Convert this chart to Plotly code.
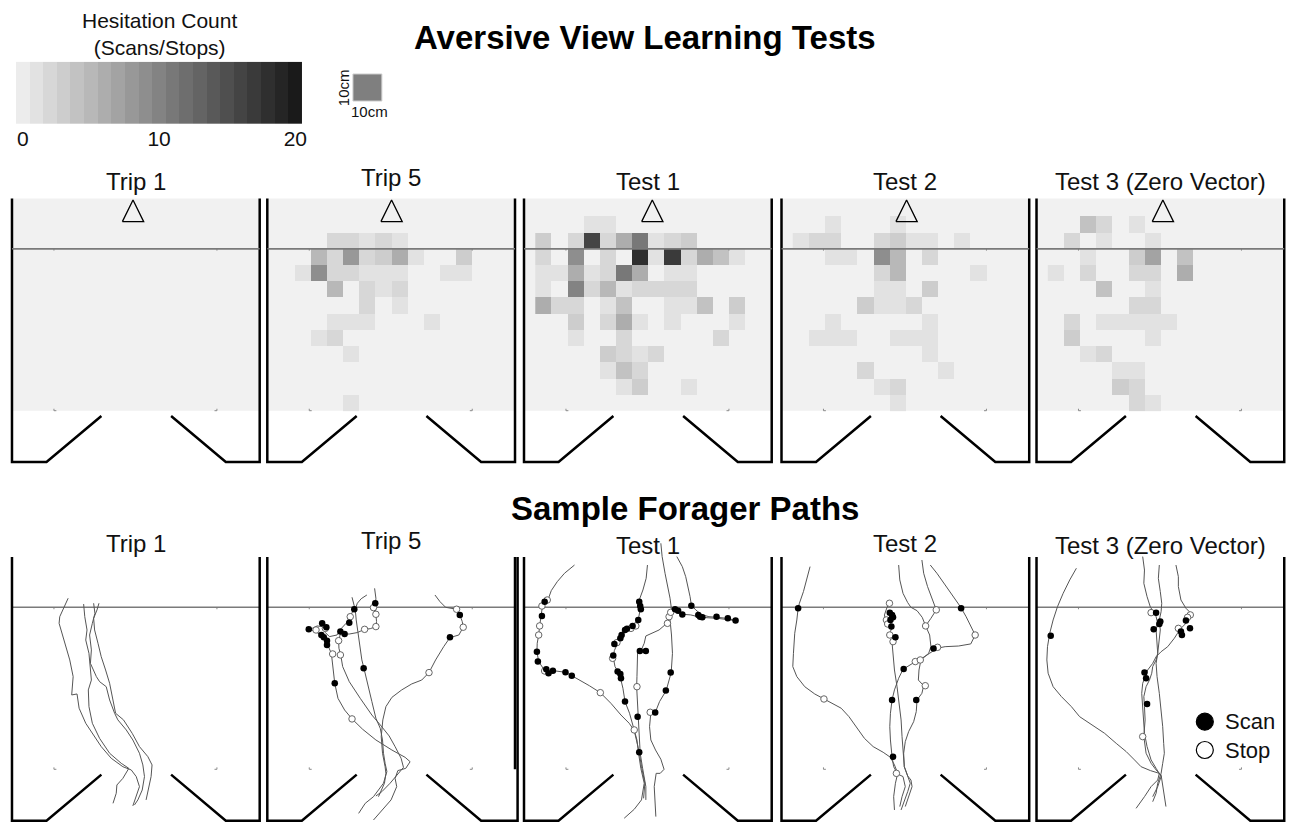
import plotly.graph_objects as go

# ======================= DATA =======================
PANEL_TITLES = ["Trip 1", "Trip 5", "Test 1", "Test 2", "Test 3 (Zero Vector)"]
MAIN_TITLES = ["Aversive View Learning Tests", "Sample Forager Paths"]
COLORBAR_TITLE = "Hesitation Count<br>(Scans/Stops)"
COLORBAR_LEVELS = list(range(21))
COLORBAR_TICKS = [0, 10, 20]
SCALE_LABEL = "10cm"
MARKER_LABELS = ["Scan", "Stop"]

# Hesitation heat-map cells: (column, row, count); 10 cm cells
HEAT_TRIP1 = []
HEAT_TRIP5 = [
    (3, 10, 2), (4, 10, 2), (5, 10, 1), (6, 10, 2), (7, 10, 1),
    (2, 9, 5), (3, 9, 2), (4, 9, 8), (5, 9, 2), (6, 9, 3), (7, 9, 6), (8, 9, 1), (11, 9, 3),
    (1, 8, 1), (2, 8, 9), (3, 8, 2), (4, 8, 2), (5, 8, 1), (6, 8, 1), (7, 8, 1), (10, 8, 1), (11, 8, 1),
    (3, 7, 5), (5, 7, 2), (6, 7, 1), (7, 7, 2),
    (5, 6, 2), (7, 6, 1),
    (3, 5, 1), (4, 5, 1), (5, 5, 1), (9, 5, 1),
    (2, 4, 1), (3, 4, 2),
    (4, 3, 1),
    (4, 0, 1),
]
HEAT_TEST1 = [
    (3, 11, 1), (4, 11, 1),
    (0, 10, 3), (2, 10, 2), (3, 10, 16), (4, 10, 2), (5, 10, 6), (6, 10, 11), (7, 10, 1), (8, 10, 2), (9, 10, 3),
    (0, 9, 2), (2, 9, 9), (4, 9, 2), (6, 9, 18), (7, 9, 1), (8, 9, 17), (9, 9, 2), (10, 9, 6), (11, 9, 4), (12, 9, 1),
    (0, 8, 1), (1, 8, 1), (2, 8, 6), (3, 8, 1), (4, 8, 2), (5, 8, 11), (6, 8, 6), (8, 8, 1), (9, 8, 1),
    (0, 7, 1), (2, 7, 10), (3, 7, 2), (4, 7, 5), (5, 7, 1), (6, 7, 2), (7, 7, 2), (8, 7, 2), (9, 7, 2),
    (0, 6, 6), (1, 6, 2), (2, 6, 2), (4, 6, 1), (5, 6, 4), (8, 6, 1), (9, 6, 1), (10, 6, 4), (12, 6, 3),
    (2, 5, 3), (4, 5, 2), (5, 5, 6), (6, 5, 1), (8, 5, 1), (12, 5, 1),
    (2, 4, 1), (5, 4, 2), (11, 4, 2),
    (4, 3, 3), (5, 3, 2), (6, 3, 1), (7, 3, 2),
    (4, 2, 1), (5, 2, 4), (6, 2, 2),
    (5, 1, 1), (6, 1, 3), (9, 1, 1),
]
HEAT_TEST2 = [
    (2, 11, 1), (6, 11, 1),
    (0, 10, 1), (1, 10, 2), (2, 10, 2), (5, 10, 2), (6, 10, 3), (7, 10, 1), (8, 10, 1), (10, 10, 1),
    (2, 9, 1), (3, 9, 1), (5, 9, 9), (6, 9, 5), (8, 9, 2),
    (5, 8, 2), (6, 8, 5), (11, 8, 1),
    (5, 7, 1), (6, 7, 1), (8, 7, 3),
    (4, 6, 3), (5, 6, 1), (6, 6, 1), (7, 6, 2),
    (2, 5, 1), (8, 5, 1),
    (1, 4, 1), (2, 4, 1), (3, 4, 1), (6, 4, 1), (7, 4, 1), (8, 4, 1),
    (8, 3, 1),
    (4, 2, 2), (9, 2, 1),
    (5, 1, 1), (6, 1, 2),
    (6, 0, 1),
]
HEAT_TEST3 = [
    (2, 11, 4), (3, 11, 2), (5, 11, 1),
    (1, 10, 2), (3, 10, 1), (6, 10, 1),
    (2, 9, 1), (5, 9, 3), (6, 9, 7), (8, 9, 4),
    (0, 8, 1), (2, 8, 2), (5, 8, 2), (6, 8, 2), (8, 8, 6),
    (3, 7, 4), (6, 7, 1),
    (5, 6, 2), (6, 6, 2),
    (1, 5, 2), (3, 5, 1), (4, 5, 1), (5, 5, 1), (6, 5, 1), (7, 5, 1),
    (1, 4, 3), (6, 4, 1),
    (2, 3, 1), (3, 3, 2),
    (4, 2, 1), (5, 2, 1),
    (4, 1, 3), (5, 1, 2),
    (5, 0, 2), (6, 0, 1),
]
HEAT_CELLS = [HEAT_TRIP1, HEAT_TRIP5, HEAT_TEST1, HEAT_TEST2, HEAT_TEST3]

# Forager paths (x, y in cm)
TRIP1_PATHS = [
    [(34.8, 105.6), (32.1, 100.0), (29.6, 94.2), (29.2, 90.1), (31.3, 82.9), (33.7, 74.7), (35.8, 67.5), (37.9, 57.2), (37.0, 45.9), (40.3, 46.5), (41.6, 37.7), (45.7, 28.4), (51.2, 20.2), (55.3, 14.0), (61.5, 6.8), (68.7, 1.6), (73.9, -0.4), (77.0, -4.5), (79.0, -10.7), (77.0, -16.9), (74.9, -22.6)],
    [(44.4, 102.0), (45.1, 94.2), (46.5, 86.0), (45.7, 79.8), (47.7, 71.6), (48.6, 63.4), (49.2, 55.1), (47.3, 49.0), (47.7, 38.7), (49.8, 28.4), (54.3, 19.1), (60.5, 9.9), (67.7, 3.7), (72.4, 0.6), (68.7, -5.6), (65.0, -9.7), (64.6, -14.8), (62.6, -21.0)],
    [(50.6, 102.5), (51.4, 96.3), (49.8, 90.1), (48.1, 82.9), (49.2, 73.7), (48.6, 65.4), (52.3, 57.2), (54.3, 54.1), (58.4, 51.0), (60.5, 42.8), (63.6, 34.6), (65.6, 30.5), (70.8, 24.3), (74.9, 18.1), (79.0, 9.9), (81.1, 2.7), (82.1, -4.5), (80.7, -12.8), (78.0, -18.9), (75.9, -22.0)],
    [(53.9, 102.5), (52.7, 98.4), (50.6, 93.2), (51.2, 86.0), (53.3, 77.8), (55.3, 69.5), (58.0, 61.3), (60.5, 53.1), (64.2, 34.6), (69.1, 30.5), (74.5, 22.2), (79.0, 14.0), (84.2, 7.8), (86.8, 2.7), (86.2, -4.5), (84.8, -10.7), (83.1, -18.9)],
]
TRIP1_SCANS = []
TRIP1_STOPS = []

TRIP5_PATHS = [
    [(52.5, 106.2), (53.9, 100.8), (52.9, 97.3), (50.8, 93.8), (48.8, 90.1), (45.9, 87.0), (43.2, 82.9), (38.5, 81.9), (36.0, 84.4), (34.0, 88.1), (30.9, 88.5), (27.8, 87.0), (25.7, 86.4), (29.4, 85.2), (33.5, 82.9), (35.6, 79.8), (37.7, 76.1), (39.7, 71.6), (40.5, 63.4), (41.8, 53.1), (43.8, 43.8), (47.9, 36.6), (52.5, 31.1), (59.1, 24.7), (67.3, 18.1), (77.2, 11.9), (85.4, 7.4), (88.5, 4.7), (85.8, 0.6), (80.9, -0.8), (79.2, -5.6), (80.2, -10.7), (76.7, -18.9), (71.4, -25.1), (65.8, -31.3)],
    [(66.5, 111.7), (67.3, 105.6), (67.1, 102.1), (66.9, 98.8), (67.3, 95.3), (67.7, 91.2), (67.3, 88.1), (63.8, 86.8), (60.3, 86.4), (55.8, 84.4), (50.8, 83.5), (47.9, 83.5), (45.5, 84.4), (44.2, 79.4), (44.4, 74.7), (45.5, 70.6), (46.7, 63.4), (50.8, 54.1), (57.6, 43.8), (64.8, 33.5), (70.6, 26.7), (75.5, 20.6), (79.2, 14.0), (82.9, 6.8), (84.4, 1.2), (81.3, -2.5), (76.1, -8.6), (71.0, -13.8), (67.3, -16.5)],
    [(61.7, 107.6), (58.2, 105.3), (55.8, 102.5), (54.5, 98.8), (55.1, 92.2), (56.2, 85.0), (57.2, 76.7), (58.6, 67.5), (59.9, 62.3), (62.3, 53.1), (64.8, 41.8), (67.3, 31.5), (70.0, 25.3), (71.4, 18.1), (72.0, 9.9), (73.0, 3.7), (74.1, -1.4), (72.0, -8.6), (65.8, -16.9), (60.7, -21.0), (56.6, -27.2)],
    [(103.9, 107.6), (107.0, 103.5), (110.5, 100.0), (117.3, 98.8), (119.3, 95.3), (120.8, 91.2), (121.4, 87.7), (118.7, 82.9), (113.2, 81.3), (109.3, 75.7), (104.3, 67.5), (100.2, 59.7), (95.7, 55.1), (89.5, 52.7), (83.3, 49.0), (77.2, 44.4), (73.5, 38.7), (71.6, 30.5), (70.6, 20.2), (71.4, 9.9), (73.0, 1.6), (73.5, -2.5), (72.6, -8.6), (68.9, -16.9)],
]
TRIP5_SCANS = [(53.9, 98.8), (66.9, 102.5), (50.8, 90.5), (45.3, 85.0), (47.9, 83.5), (25.7, 86.4), (34.0, 90.1), (36.6, 87.7), (33.5, 82.9), (35.0, 81.5), (37.0, 79.4), (37.0, 76.7), (59.7, 62.3), (41.8, 53.1), (119.3, 95.3), (113.2, 81.5)]
TRIP5_STOPS = [(65.8, 99.8), (67.3, 95.7), (67.3, 88.1), (60.3, 86.4), (51.4, 94.2), (30.2, 86.0), (36.0, 87.0), (44.2, 79.4), (40.5, 71.2), (45.3, 70.6), (52.5, 31.1), (100.2, 59.7), (117.3, 98.8), (121.4, 87.7)]

TEST1_PATHS = [
    [(31.3, 126.1), (25.1, 121.0), (20.6, 115.8), (16.9, 110.3), (14.8, 104.5), (12.3, 101.4), (11.1, 98.4), (10.7, 94.2), (9.7, 88.5), (9.1, 82.9), (8.2, 77.8), (8.0, 72.6), (9.1, 66.5), (12.3, 61.7), (14.8, 59.3), (17.9, 60.9), (21.4, 60.3), (25.7, 59.9), (29.6, 57.8), (34.4, 55.1), (40.5, 51.6), (47.3, 47.3), (53.9, 40.7), (60.1, 33.5), (65.2, 28.4), (68.3, 23.9), (69.8, 17.7), (71.4, 10.5), (72.8, 1.6), (74.9, -8.6), (74.1, -17.9)],
    [(76.5, 126.1), (75.7, 117.9), (73.7, 110.7), (71.4, 104.5), (72.0, 98.8), (70.8, 92.2), (67.5, 88.5), (63.8, 86.8), (61.1, 82.9), (58.0, 77.8), (56.0, 73.3), (55.3, 69.1), (56.4, 63.4), (59.1, 58.8), (60.1, 55.1), (61.3, 50.0), (62.6, 41.8), (65.4, 34.6), (67.7, 26.3), (70.0, 18.1), (71.0, 9.9), (72.4, 0.6), (74.5, -8.6), (72.8, -18.9), (68.3, -24.7), (62.1, -30.2)],
    [(84.8, 139.5), (85.6, 131.3), (87.4, 121.0), (89.3, 112.8), (90.5, 105.6), (91.4, 98.8), (90.5, 92.2), (91.4, 82.9), (92.0, 71.6), (91.2, 59.7), (88.1, 48.6), (84.0, 41.8), (81.3, 35.0), (78.6, 35.0), (77.8, 26.3), (78.6, 18.1), (81.5, 11.9), (84.8, 6.2), (86.8, 0.0), (84.4, -2.5), (81.9, -2.5), (80.7, -10.7), (81.1, -21.0), (81.7, -29.2)],
    [(94.7, 131.3), (98.1, 125.1), (100.2, 118.9), (101.6, 112.8), (102.9, 106.6), (103.7, 101.4), (106.4, 98.4), (109.9, 95.5), (114.6, 94.2), (119.8, 93.8), (125.9, 93.2), (131.1, 91.8), (125.9, 92.6), (119.8, 93.2), (109.5, 93.8), (103.3, 95.3), (98.1, 95.7), (94.0, 98.4), (90.5, 94.2), (88.5, 90.1), (83.7, 86.0), (78.6, 84.0), (75.5, 82.3), (74.5, 77.8), (72.4, 73.0), (70.4, 72.6), (70.0, 65.4), (70.0, 57.2), (69.8, 51.0), (70.4, 38.7), (70.8, 32.5), (71.4, 22.2), (72.0, 9.9), (73.5, 0.6), (75.5, -10.7), (75.5, -18.9)],
]
TEST1_SCANS = [(12.8, 103.5), (11.1, 94.7), (8.0, 72.6), (8.6, 66.5), (13.8, 61.7), (15.2, 59.3), (17.9, 60.9), (25.7, 59.9), (29.6, 57.8), (71.4, 103.5), (72.0, 100.8), (72.4, 98.8), (70.8, 92.2), (67.3, 88.5), (63.8, 86.8), (62.6, 86.0), (60.5, 82.9), (59.7, 80.9), (56.0, 77.4), (55.3, 70.2), (58.0, 60.3), (59.7, 58.8), (60.1, 56.2), (62.6, 41.8), (70.4, 32.5), (71.4, 10.5), (93.6, 98.8), (95.5, 97.9), (98.1, 95.5), (103.7, 101.0), (108.0, 95.3), (109.1, 94.2), (110.5, 93.8), (119.3, 94.2), (126.3, 93.2), (131.1, 91.8), (71.8, 73.0), (75.5, 73.0), (90.9, 59.7), (87.9, 48.6), (81.3, 35.0)]
TEST1_STOPS = [(11.1, 100.8), (14.4, 104.5), (9.7, 88.5), (9.1, 82.9), (12.8, 60.7), (47.3, 47.3), (68.3, 24.3), (57.6, 78.2), (54.9, 68.5), (69.3, 88.5), (66.3, 87.0), (70.0, 51.0), (78.2, 35.2), (89.9, 94.2), (88.9, 90.1), (90.9, 96.9)]

TEST2_PATHS = [
    [(17.7, 125.1), (15.6, 116.9), (13.6, 109.7), (11.1, 102.5), (10.3, 99.4), (9.5, 92.2), (8.2, 84.0), (7.4, 71.6), (7.0, 63.4), (9.5, 57.2), (14.4, 51.0), (20.6, 46.5), (26.3, 43.4), (32.1, 40.7), (37.0, 37.7), (41.8, 32.5), (46.5, 25.9), (51.4, 19.1), (56.8, 14.0), (63.0, 10.5), (67.5, 7.4), (70.0, 2.7), (72.0, -2.5), (70.6, -8.6), (69.5, -16.9), (70.0, -25.1)],
    [(87.0, 129.2), (88.1, 121.0), (90.5, 112.8), (93.4, 104.5), (95.9, 98.4), (92.6, 93.2), (89.3, 88.5), (91.8, 82.9), (92.6, 75.7), (91.2, 71.6), (86.4, 67.5), (85.2, 61.3), (84.8, 55.1), (88.1, 51.6), (87.0, 46.9), (84.0, 42.8), (83.5, 35.6), (81.9, 29.4), (78.8, 23.3), (76.7, 17.1), (75.7, 9.9), (76.1, 1.6), (78.2, -4.5), (79.8, -8.6), (78.2, -13.8), (75.7, -20.0), (74.1, -25.1)],
    [(72.6, 126.1), (73.3, 116.9), (75.3, 108.6), (78.2, 102.9), (80.2, 100.0), (84.0, 97.9), (87.2, 93.8), (89.3, 88.5)],
    [(92.2, 126.1), (96.3, 121.0), (101.4, 113.8), (106.6, 106.6), (111.1, 100.0), (114.4, 94.2), (117.9, 87.0), (120.0, 82.9), (117.3, 77.4), (109.7, 76.1), (101.4, 75.7), (96.3, 74.7), (91.8, 71.6), (87.0, 68.5), (81.9, 65.8), (77.4, 63.0), (75.3, 61.7), (72.6, 56.2), (70.0, 49.0), (68.5, 42.8), (67.5, 34.6), (67.1, 26.3), (67.5, 18.1), (68.5, 7.8), (69.5, 1.6), (72.0, -2.9), (75.3, -4.5), (76.7, -10.7), (74.7, -16.9), (73.3, -23.0)],
    [(67.1, 102.9), (65.4, 100.0), (63.8, 95.3), (64.4, 92.2), (66.7, 89.7), (68.5, 87.7), (67.5, 85.0), (68.5, 82.3), (69.5, 80.9), (68.5, 78.2), (69.1, 71.6), (70.0, 61.3), (71.6, 51.0), (72.8, 40.7), (74.1, 30.5), (74.7, 20.2), (75.3, 9.9), (76.1, 1.6), (78.2, -4.1), (80.2, -6.6), (80.9, -10.7), (78.8, -16.9), (76.7, -23.0)],
]
TEST2_SCANS = [(10.3, 99.4), (111.3, 99.4), (67.1, 96.7), (68.5, 95.3), (69.1, 93.8), (67.5, 92.2), (68.1, 88.1), (70.6, 81.5), (94.2, 74.5), (75.7, 61.9), (68.5, 42.8), (83.5, 42.8), (69.1, 7.8)]
TEST2_STOPS = [(66.9, 102.5), (95.9, 98.4), (65.0, 92.2), (65.8, 89.7), (89.3, 88.5), (120.0, 82.9), (67.1, 82.9), (69.1, 78.8), (96.7, 75.3), (82.9, 66.5), (86.0, 67.5), (89.1, 51.6), (26.3, 43.4), (71.2, -2.5)]

TEST3_PATHS = [
    [(24.7, 124.1), (20.6, 116.9), (16.5, 108.6), (13.0, 100.4), (10.3, 92.2), (8.2, 84.0), (6.8, 75.7), (6.4, 67.5), (7.2, 59.3), (10.3, 51.0), (15.4, 44.9), (21.6, 38.7), (26.7, 32.5), (34.0, 27.4), (42.2, 22.2), (49.4, 16.0), (55.6, 10.9), (60.7, 5.8), (64.8, 1.6), (70.6, -0.8), (76.1, -2.5), (75.1, -6.6), (71.0, -10.7), (66.9, -16.9), (61.7, -24.1)],
    [(65.8, 131.3), (66.9, 123.0), (66.5, 114.8), (68.5, 106.6), (70.6, 100.0), (73.0, 96.7), (74.1, 94.2), (75.1, 90.1), (74.1, 86.0), (74.7, 79.8), (75.1, 71.6), (74.1, 67.5), (72.0, 63.4), (71.4, 59.3), (70.0, 55.1), (67.9, 51.0), (66.5, 44.9), (66.9, 38.7), (67.3, 30.5), (66.5, 20.2), (67.9, 9.9), (71.0, 3.7), (74.1, -0.4), (77.2, -3.5), (78.2, -10.7), (79.2, -16.9), (80.2, -23.0)],
    [(76.1, 126.1), (75.5, 117.9), (76.7, 109.7), (77.6, 102.5), (77.2, 97.3), (76.1, 92.2), (76.7, 86.0), (76.1, 79.8), (75.1, 71.6), (74.1, 65.4), (74.7, 57.2), (76.1, 46.9), (77.2, 36.6), (78.2, 26.3), (78.8, 16.0), (79.2, 9.9), (78.2, 3.7), (77.2, -2.5), (75.1, -8.6), (74.1, -14.8), (72.0, -20.0)],
    [(86.4, 126.1), (87.9, 118.9), (87.9, 112.8), (89.5, 104.5), (92.6, 99.4), (94.7, 97.3), (95.3, 94.2), (93.6, 91.2), (91.6, 89.1), (89.5, 87.0), (87.4, 84.0), (85.4, 80.9), (81.3, 75.7), (77.2, 72.6), (74.1, 69.5), (72.0, 65.4), (68.9, 61.3), (67.3, 57.2), (65.8, 53.1), (65.2, 46.9), (65.8, 38.7), (66.5, 30.5), (66.9, 22.2), (68.5, 14.0), (71.0, 5.8), (74.1, 0.6), (77.2, -4.5), (75.1, -10.7), (72.0, -16.9)],
]
TEST3_SCANS = [(8.8, 82.5), (74.1, 96.7), (76.7, 91.2), (76.1, 89.7), (72.6, 86.4), (89.5, 85.0), (90.1, 82.9), (92.6, 91.8), (95.1, 87.0), (66.9, 59.7), (67.9, 56.2), (68.5, 40.3)]
TEST3_STOPS = [(71.0, 96.7), (95.3, 95.3), (93.6, 93.8), (87.9, 87.0), (65.8, 20.2)]

ALL_PATHS = [TRIP1_PATHS, TRIP5_PATHS, TEST1_PATHS, TEST2_PATHS, TEST3_PATHS]
ALL_SCANS = [TRIP1_SCANS, TRIP5_SCANS, TEST1_SCANS, TEST2_SCANS, TEST3_SCANS]
ALL_STOPS = [TRIP1_STOPS, TRIP5_STOPS, TEST1_STOPS, TEST2_STOPS, TEST3_STOPS]

# ======================= GEOMETRY / STYLE =======================
GRID_X0, CELL, NCOLS, NROWS = 7, 10, 14, 13
ARENA_W, ARENA_TOP, ARENA_FLOOR, DIVIDER_Y = 153.5, 131, -31.7, 100
WALL_LEFT_X = [0, 0, 21.4, 55.4]
WALL_LEFT_Y = [ARENA_TOP, ARENA_FLOOR, ARENA_FLOOR, -3.3]
WALL_RIGHT_X = [98.6, 132.5, ARENA_W, ARENA_W]
WALL_RIGHT_Y = [-3.3, ARENA_FLOOR, ARENA_FLOOR, ARENA_TOP]
OUTER_WALL_X = 155.1            # doubled right wall seen in the Trip 5 path panel
OUTER_WALL_PANELS = [1]
CORNER_X = [26, 127]
TRIANGLE_X = [75, 77, 79.5, 77.5, 78.3]
TRIANGLE_Y, TRI_HALF_W, TRI_H = 116.7, 6.6, 13.4

FONT = "Liberation Sans, Arial, Helvetica, sans-serif"
W, H = 1296, 825
PAGE_OFFSET = 8                # default page margin around the plot div
PX = 1.62                      # pixels per cm
LEFT_PX = [12, 268.3, 526, 784.5, 1040.5]
TOP_BASE, BOT_BASE = 410.7, 769.3
XR = [-2, 156.5]
TOP_YR = [-34, 134]
BOT_YR = [-34, 146]
TOP_TITLE_PY = [181, 177, 181, 181, 181]
BOT_TITLE_PY = [543, 540, 545, 543, 545]

GRAY_STEPS = [[0, "rgb(236,236,236)"], [1, "rgb(26,26,26)"]]


def fx(px):
    return (px - PAGE_OFFSET) / W


def fy(py):
    return 1 - (py - PAGE_OFFSET) / H


fig = go.Figure()
axes = {}


def add_axes(k, xd, yd, xr, yr, xvisible=False):
    sx = "" if k == 1 else str(k)
    axes["xaxis" + sx] = dict(domain=xd, range=xr, visible=xvisible, anchor="y" + sx,
                              fixedrange=True, showgrid=False, zeroline=False)
    axes["yaxis" + sx] = dict(domain=yd, range=yr, visible=False, anchor="x" + sx,
                              fixedrange=True, showgrid=False, zeroline=False)
    return "x" + sx, "y" + sx


shapes = []
annotations = []


def arena(xa, ya, heat_floor, outer_wall=False):
    if heat_floor:
        shapes.append(dict(type="rect", xref=xa, yref=ya, x0=0, x1=ARENA_W, y0=0, y1=ARENA_TOP,
                           fillcolor="#f1f1f1", line=dict(width=0), layer="below"))
    cx, cy = [], []
    for x in CORNER_X:
        cx += [x, x, None]
        cy += [DIVIDER_Y, DIVIDER_Y - 1.2, None]
    cx += [CORNER_X[0], CORNER_X[0], CORNER_X[0] + 1.5, None, CORNER_X[1] - 1.5, CORNER_X[1], CORNER_X[1]]
    cy += [1.2, 0, 0, None, 0, 0, 1.2]
    fig.add_trace(go.Scatter(x=cx, y=cy, mode="lines", line=dict(color="#8a8a8a", width=1),
                             hoverinfo="skip", xaxis=xa, yaxis=ya))
    fig.add_trace(go.Scatter(x=[0, ARENA_W], y=[DIVIDER_Y, DIVIDER_Y], mode="lines",
                             line=dict(color="#7a7a7a", width=1.6), hoverinfo="skip", xaxis=xa, yaxis=ya))
    if outer_wall:
        wlx = WALL_LEFT_X + [None] + WALL_RIGHT_X[:-1] + [OUTER_WALL_X, OUTER_WALL_X, None, ARENA_W, ARENA_W]
        wly = WALL_LEFT_Y + [None] + WALL_RIGHT_Y[:-1] + [ARENA_FLOOR, ARENA_TOP, None, 0, ARENA_TOP]
    else:
        wlx = WALL_LEFT_X + [None] + WALL_RIGHT_X
        wly = WALL_LEFT_Y + [None] + WALL_RIGHT_Y
    fig.add_trace(go.Scatter(x=wlx, y=wly, mode="lines", line=dict(color="black", width=2.5),
                             hoverinfo="skip", xaxis=xa, yaxis=ya))


# ---------- top row: heat maps ----------
xc = [GRID_X0 + CELL * (c + 0.5) for c in range(NCOLS)]
yc = [CELL * (r + 0.5) for r in range(NROWS)]
for i in range(5):
    L = LEFT_PX[i]
    xd = [fx(L + XR[0] * PX), fx(L + XR[1] * PX)]
    yd = [fy(TOP_BASE - TOP_YR[0] * PX), fy(TOP_BASE - TOP_YR[1] * PX)]
    xa, ya = add_axes(i + 1, xd, yd, XR, TOP_YR)
    arena(xa, ya, True)
    z = [[None] * NCOLS for _ in range(NROWS)]
    for c, r, v in HEAT_CELLS[i]:
        z[r][c] = v
    if HEAT_CELLS[i]:
        fig.add_trace(go.Heatmap(z=z, x=xc, y=yc, colorscale=GRAY_STEPS, zmin=0, zmax=20,
                                 showscale=False, hoverinfo="skip", xaxis=xa, yaxis=ya))
    fig.add_trace(go.Scatter(x=[0, ARENA_W], y=[DIVIDER_Y, DIVIDER_Y], mode="lines",
                             line=dict(color="#7a7a7a", width=1.6), hoverinfo="skip", xaxis=xa, yaxis=ya))
    tx = TRIANGLE_X[i]
    fig.add_trace(go.Scatter(x=[tx - TRI_HALF_W, tx + TRI_HALF_W, tx, tx - TRI_HALF_W],
                             y=[TRIANGLE_Y, TRIANGLE_Y, TRIANGLE_Y + TRI_H, TRIANGLE_Y],
                             mode="lines", line=dict(color="black", width=1.3), hoverinfo="skip",
                             xaxis=xa, yaxis=ya))
    annotations.append(dict(text=PANEL_TITLES[i], x=fx(L + ARENA_W / 2 * PX), y=fy(TOP_TITLE_PY[i]),
                            xref="paper", yref="paper", showarrow=False, xanchor="center", yanchor="middle",
                            font=dict(size=24, color="#111", family=FONT)))

# ---------- bottom row: paths ----------
for i in range(5):
    L = LEFT_PX[i]
    xd = [fx(L + XR[0] * PX), fx(L + XR[1] * PX)]
    yd = [fy(BOT_BASE - BOT_YR[0] * PX), fy(BOT_BASE - BOT_YR[1] * PX)]
    xa, ya = add_axes(i + 6, xd, yd, XR, BOT_YR)
    arena(xa, ya, False, outer_wall=(i in OUTER_WALL_PANELS))
    for path in ALL_PATHS[i]:
        fig.add_trace(go.Scatter(x=[p[0] for p in path], y=[p[1] for p in path], mode="lines",
                                 line=dict(color="#555555", width=1), hoverinfo="skip",
                                 xaxis=xa, yaxis=ya))
    if ALL_STOPS[i]:
        fig.add_trace(go.Scatter(x=[p[0] for p in ALL_STOPS[i]], y=[p[1] for p in ALL_STOPS[i]],
                                 mode="markers", marker=dict(size=6.5, color="white",
                                                             line=dict(color="#555555", width=0.9)),
                                 hoverinfo="skip", xaxis=xa, yaxis=ya))
    if ALL_SCANS[i]:
        fig.add_trace(go.Scatter(x=[p[0] for p in ALL_SCANS[i]], y=[p[1] for p in ALL_SCANS[i]],
                                 mode="markers", marker=dict(size=6.5, color="black", line=dict(width=0)),
                                 hoverinfo="skip", xaxis=xa, yaxis=ya))
    annotations.append(dict(text=PANEL_TITLES[i], x=fx(L + ARENA_W / 2 * PX), y=fy(BOT_TITLE_PY[i]),
                            xref="paper", yref="paper", showarrow=False, xanchor="center", yanchor="middle",
                            font=dict(size=24, color="#111", family=FONT)))
    if i == 4:
        fig.add_trace(go.Scatter(x=[104.3, 104.3], y=[29.4, 11.9], mode="markers",
                                 marker=dict(size=17, color=["black", "white"],
                                             line=dict(color="black", width=1.2)),
                                 hoverinfo="skip", xaxis=xa, yaxis=ya))
        for lab, py in zip(MARKER_LABELS, [721.5, 750]):
            annotations.append(dict(text=lab, x=fx(1228), y=fy(py), xref="paper", yref="paper",
                                    showarrow=False, xanchor="left", yanchor="middle",
                                    font=dict(size=22, color="#111", family=FONT)))

# ---------- colour bar ----------
cxa, cya = add_axes(11, [fx(16), fx(303.3)], [fy(124), fy(61.7)], [-0.5, 20.5], [-0.5, 0.5], xvisible=True)
axes["xaxis11"].update(showline=False, ticks="", tickvals=COLORBAR_TICKS,
                       ticktext=[str(t) for t in COLORBAR_TICKS],
                       tickfont=dict(size=21, color="#111", family=FONT))
fig.add_trace(go.Heatmap(z=[COLORBAR_LEVELS], x=COLORBAR_LEVELS, y=[0], colorscale=GRAY_STEPS,
                         zmin=0, zmax=20, showscale=False, hoverinfo="skip", xaxis=cxa, yaxis=cya))
annotations.append(dict(text=COLORBAR_TITLE, x=fx(160), y=fy(34), xref="paper", yref="paper",
                        showarrow=False, xanchor="center", yanchor="middle", align="center",
                        font=dict(size=21, color="#111", family=FONT)))

# scale square
shapes.append(dict(type="rect", xref="paper", yref="paper", x0=fx(354.3), x1=fx(383.3),
                   y0=fy(101), y1=fy(74), fillcolor="#7f7f7f", line=dict(color="#cccccc", width=1)))
annotations.append(dict(text=SCALE_LABEL, x=fx(371), y=fy(111.5), xref="paper", yref="paper",
                        showarrow=False, xanchor="center", yanchor="middle",
                        font=dict(size=15, color="#111", family=FONT)))
annotations.append(dict(text=SCALE_LABEL, x=fx(345), y=fy(87.5), xref="paper", yref="paper",
                        showarrow=False, xanchor="center", yanchor="middle", textangle=-90,
                        font=dict(size=15, color="#111", family=FONT)))

# main titles
annotations.append(dict(text="<b>%s</b>" % MAIN_TITLES[0], x=fx(647.5), y=fy(37), xref="paper", yref="paper",
                        showarrow=False, xanchor="center", yanchor="middle",
                        font=dict(size=33, color="black", family=FONT)))
annotations.append(dict(text="<b>%s</b>" % MAIN_TITLES[1], x=fx(688), y=fy(508), xref="paper", yref="paper",
                        showarrow=False, xanchor="center", yanchor="middle",
                        font=dict(size=33, color="black", family=FONT)))

fig.update_layout(width=W, height=H, margin=dict(l=0, r=0, t=0, b=0), showlegend=False,
                  paper_bgcolor="white", plot_bgcolor="rgba(0,0,0,0)",
                  shapes=shapes, annotations=annotations, font=dict(family=FONT), **axes)
fig.write_html("out.html")
